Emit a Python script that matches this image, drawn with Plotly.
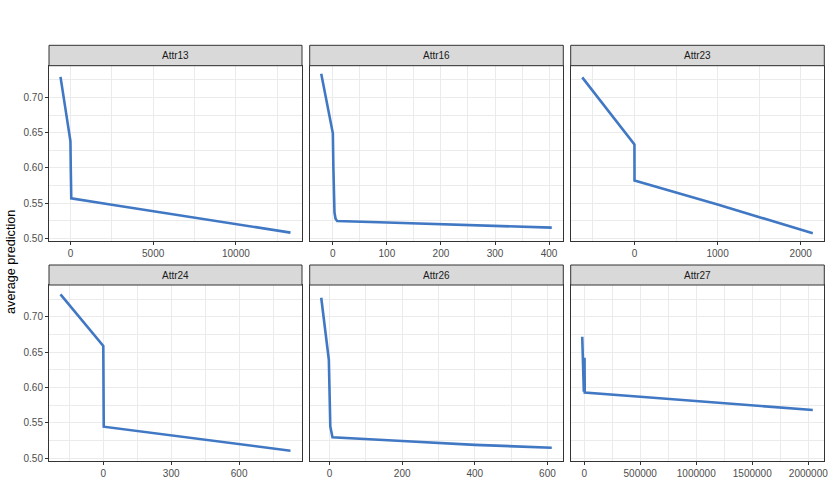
import plotly.graph_objects as go

# ---- data ----
panels = ["Attr13", "Attr16", "Attr23", "Attr24", "Attr26", "Attr27"]

attr13_x = [-600, 0, 20, 50, 2500, 5000, 7500, 10000, 13300]
attr13_y = [0.729, 0.638, 0.600, 0.557, 0.548, 0.539, 0.530, 0.521, 0.5085]

attr16_x = [-21.5, 0, 1, 2, 3, 5, 8, 100, 200, 300, 405]
attr16_y = [0.7335, 0.649, 0.600, 0.560, 0.537, 0.528, 0.525, 0.5228, 0.5205, 0.518, 0.5155]

attr23_x = [-628, 0, 1, 1000, 2145]
attr23_y = [0.7283, 0.6332, 0.5823, 0.5484, 0.5075]

attr24_x = [-189, 0, 2, 300, 827]
attr24_y = [0.7316, 0.6586, 0.5446, 0.5325, 0.5107]

attr26_x = [-23, -2, 2, 8, 200, 400, 612]
attr26_y = [0.7268, 0.639, 0.545, 0.5297, 0.5244, 0.519, 0.515]

attr27_x = [-17500, -3000, 3000, 5000, 500000, 1000000, 1500000, 2040000]
attr27_y = [0.6717, 0.594, 0.642, 0.593, 0.587, 0.581, 0.5749, 0.5682]

xs = [attr13_x, attr16_x, attr23_x, attr24_x, attr26_x, attr27_x]
ys = [attr13_y, attr16_y, attr23_y, attr24_y, attr26_y, attr27_y]
x_dticks = [5000, 100, 1000, 300, 200, 500000]

y_label = "average prediction"

# ---- layout geometry (pixels of an 830x499 page) ----
W, H = 830, 499
col_px = [(49, 302), (309.7, 563.3), (570.7, 824.3)]
row_plot_px = [(65.7, 241.3), (285, 461)]
row_strip_px = [(45.3, 65.7), (265, 285)]

LINE_COLOR = "#4178C4"
GRID = "#EBEBEB"
BORDER = "#333333"
FONT = "Liberation Sans, Arial, Helvetica, sans-serif"

fig = go.Figure()

all_y = [v for s in ys for v in s]
ymin, ymax = min(all_y), max(all_y)
yd = ymax - ymin
yrange = [ymin - 0.05 * yd, ymax + 0.05 * yd]

shapes = []
annotations = []
layout = {}
for i, name in enumerate(panels):
    r, c = divmod(i, 3)
    k = "" if i == 0 else str(i + 1)
    x0, x1 = col_px[c]
    py0, py1 = row_plot_px[r]
    dom_x = [x0 / W, x1 / W]
    dom_y = [1 - py1 / H, 1 - py0 / H]
    xmin, xmax = min(xs[i]), max(xs[i])
    xd = xmax - xmin
    xrange = [xmin - 0.05 * xd, xmax + 0.05 * xd]

    fig.add_trace(go.Scatter(
        x=xs[i], y=ys[i], mode="lines",
        line=dict(color=LINE_COLOR, width=2.6),
        xaxis="x" + k, yaxis="y" + k, showlegend=False, hoverinfo="skip"))

    layout["xaxis" + k] = dict(
        domain=dom_x, anchor="y" + k, range=xrange, automargin=False,
        dtick=x_dticks[i], tick0=0, tickformat="d",
        showgrid=True, gridcolor=GRID, gridwidth=1,
        minor=dict(dtick=x_dticks[i] / 2, tick0=0, showgrid=True,
                   gridcolor=GRID, gridwidth=0.5, ticklen=0),
        zeroline=False, showline=True, mirror=True,
        linecolor=BORDER, linewidth=1,
        ticks="outside", ticklen=3, tickcolor=BORDER, tickwidth=1,
        tickfont=dict(family=FONT, size=10, color="#4D4D4D"),
    )
    layout["yaxis" + k] = dict(
        domain=dom_y, anchor="x" + k, range=yrange, automargin=False,
        dtick=0.05, tick0=0.5, tickformat=".2f",
        showgrid=True, gridcolor=GRID, gridwidth=1,
        minor=dict(dtick=0.025, tick0=0.5, showgrid=True,
                   gridcolor=GRID, gridwidth=0.5, ticklen=0),
        zeroline=False, showline=True, mirror=True,
        linecolor=BORDER, linewidth=1,
        ticks="outside" if c == 0 else "", ticklen=3, tickcolor=BORDER, tickwidth=1,
        showticklabels=(c == 0),
        tickfont=dict(family=FONT, size=10, color="#4D4D4D"),
    )

    sy0, sy1 = row_strip_px[r]
    shapes.append(dict(
        type="rect", xref="paper", yref="paper",
        x0=x0 / W, x1=x1 / W, y0=1 - sy1 / H, y1=1 - sy0 / H,
        fillcolor="#D9D9D9", line=dict(color=BORDER, width=1), layer="above"))
    annotations.append(dict(
        text=name, xref="paper", yref="paper",
        x=(x0 + x1) / 2 / W, y=1 - (sy0 + sy1) / 2 / H,
        showarrow=False, xanchor="center", yanchor="middle",
        font=dict(family=FONT, size=10, color="#1A1A1A")))

annotations.append(dict(
    text=y_label, xref="paper", yref="paper",
    x=11 / W, y=1 - 262 / H, textangle=-90,
    showarrow=False, xanchor="center", yanchor="middle",
    font=dict(family=FONT, size=12.7, color="#000000")))

fig.update_layout(
    width=W, height=H,
    margin=dict(l=0, r=0, t=0, b=0, autoexpand=False),
    paper_bgcolor="white", plot_bgcolor="white",
    shapes=shapes, annotations=annotations,
    showlegend=False,
    **layout,
)

fig.write_html(
    "out.html",
    config={"displayModeBar": False},
    post_script="document.body.style.margin='0';document.body.style.overflow='hidden';",
)
